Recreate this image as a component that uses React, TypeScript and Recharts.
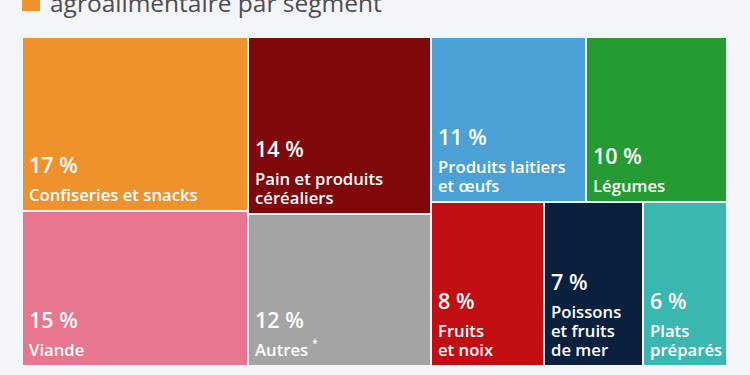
import React from 'react';
import { Treemap } from 'recharts';

const segments = [
  'Confiseries et snacks',
  'Viande',
  'Pain et produits céréaliers',
  'Autres',
  'Produits laitiers et œufs',
  'Légumes',
  'Fruits et noix',
  'Poissons et fruits de mer',
  'Plats préparés',
];
const shares = [17, 15, 14, 12, 11, 10, 8, 7, 6];
const labelLines = [
  ['Confiseries et snacks'],
  ['Viande'],
  ['Pain et produits', 'céréaliers'],
  ['Autres'],
  ['Produits laitiers', 'et œufs'],
  ['Légumes'],
  ['Fruits', 'et noix'],
  ['Poissons', 'et fruits', 'de mer'],
  ['Plats', 'préparés'],
];
const footnoteMarks = ['', '', '', '*', '', '', '', '', ''];
const palette = [
  '#f0922b',
  '#e7768e',
  '#7f080b',
  '#a4a4a4',
  '#4ba0d6',
  '#259b33',
  '#c20e12',
  '#0b1f3e',
  '#3bb7b2',
];
const titleText = 'agroalimentaire par segment';

const data = segments.map((name, i) => ({
  name,
  value: shares[i],
  idx: i,
}));

const BG = '#f2f5f9';
const FONT = "'Open Sans', 'Noto Sans', sans-serif";

const Cell = (props: any) => {
  const { x, y, width, height, depth, idx, value } = props;
  if (depth !== 1 || idx === undefined) return <g />;
  const lines = labelLines[idx];
  const lh = 19;
  const bottomPad = 10;
  const lastBase = y + height - bottomPad;
  const firstBase = lastBase - (lines.length - 1) * lh;
  const pctBase = firstBase - 28;
  const tx = x + 7;
  const mark = footnoteMarks[idx];
  return (
    <g>
      <rect x={x} y={y} width={width} height={height} fill={palette[idx]} stroke={BG} strokeWidth={2} />
      <text x={tx} y={pctBase} fill="#ffffff" fontFamily={FONT} fontSize={21.5} fontWeight={600}>
        {`${value} %`}
      </text>
      {lines.map((ln: string, k: number) => (
        <text key={k} x={tx} y={firstBase + k * lh} fill="#ffffff" fontFamily={FONT} fontSize={16.7} fontWeight={600}>
          {ln}
          {mark && k === lines.length - 1 ? (
            <tspan dx={4} dy={-9} fontSize={10}>{mark}</tspan>
          ) : null}
        </text>
      ))}
    </g>
  );
};

export default function App() {
  return (
    <div style={{ position: 'absolute', left: 0, top: 0, width: 750, height: 375, background: BG, overflow: 'hidden' }}>
      <svg width={750} height={30} style={{ position: 'absolute', left: 0, top: 0 }}>
        <rect x={22} y={-8} width={18} height={19} fill="#f0922b" />
        <text x={50} y={12} fill="#4d4d4d" fontFamily={FONT} fontSize={24.5}>
          {titleText}
        </text>
      </svg>
      <div style={{ position: 'absolute', left: 22, top: 37 }}>
        <Treemap
          width={705}
          height={329}
          data={data}
          dataKey="value"
          nameKey="name"
          aspectRatio={1}
          isAnimationActive={false}
          content={<Cell />}
        />
      </div>
    </div>
  );
}
